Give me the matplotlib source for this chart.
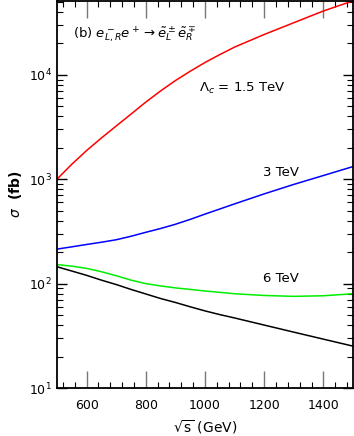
import numpy as np
import matplotlib
matplotlib.use("Agg")
import matplotlib.pyplot as plt
from matplotlib.ticker import MultipleLocator, LogLocator, NullFormatter

# sqrt(s) in GeV
rs = [500, 550, 600, 650, 700, 750, 800, 850, 900, 950, 1000, 1050, 1100, 1200, 1300, 1400, 1500]
# cross sections (fb)
sig_15 = [1000, 1390, 1880, 2480, 3230, 4200, 5470, 7000, 8790, 10800, 13100, 15600, 18400, 24300, 31500, 40800, 51000]
sig_3 = [214, 225, 237, 249, 263, 284, 310, 337, 370, 412, 463, 518, 580, 723, 891, 1084, 1320]
sig_6 = [152, 147, 140, 130, 119, 108, 100, 95, 91, 88, 85, 82.5, 80, 77, 75.5, 76.5, 80]
sig_sm = [145, 132, 120, 108, 98, 88, 79.6, 72, 66, 60, 54.8, 50.5, 46.9, 40.1, 34.3, 29.4, 25.2]

plt.rcParams['mathtext.fontset'] = 'dejavusans'

fig = plt.figure(figsize=(3.54, 4.36), dpi=100)
ax = fig.add_axes([0.161, 0.110, 0.836, 0.888])

ax.plot(rs, sig_15, color='red', lw=1.1)
ax.plot(rs, sig_3, color='blue', lw=1.1)
ax.plot(rs, sig_6, color='#00ee00', lw=1.1)
ax.plot(rs, sig_sm, color='black', lw=1.1)

ax.set_yscale('log')
ax.set_xlim(500, 1500)
ax.set_ylim(10, 5.1e4)

ax.xaxis.set_major_locator(MultipleLocator(200))
ax.xaxis.set_minor_locator(MultipleLocator(40))
ax.yaxis.set_major_locator(LogLocator(base=10))
ax.yaxis.set_minor_locator(LogLocator(base=10, subs=np.arange(2, 10)))
ax.yaxis.set_minor_formatter(NullFormatter())

ax.tick_params(axis='x', which='major', direction='in', top=True, length=12,
               width=1.0, color='#777777', labelsize=9, pad=8)
ax.tick_params(axis='x', which='minor', direction='in', top=True, length=4,
               width=0.8)
ax.tick_params(axis='y', which='major', direction='in', right=True, length=7,
               width=1.0, labelsize=9)
ax.tick_params(axis='y', which='minor', direction='in', right=True, length=4,
               width=0.8)
for s in ax.spines.values():
    s.set_linewidth(1.3)

ax.set_xlabel(r'$\sqrt{\rm s}$ (GeV)', fontsize=10)
ax.set_ylabel(r'$\sigma$  (fb)', fontsize=10, fontweight='bold', labelpad=4)

ax.text(0.055, 0.915, r'(b) $e^-_{L,R}e^+ \rightarrow \tilde{e}^\pm_L\tilde{e}^\mp_R$',
        transform=ax.transAxes, fontsize=9.5, va='center')
ax.text(0.48, 0.775, r'$\Lambda_c$ = 1.5 TeV', transform=ax.transAxes,
        fontsize=9.5, va='center')
ax.text(0.695, 0.556, '3 TeV', transform=ax.transAxes, fontsize=9.5, va='center')
ax.text(0.695, 0.282, '6 TeV', transform=ax.transAxes, fontsize=9.5, va='center')

fig.savefig('out.png', dpi=100)
